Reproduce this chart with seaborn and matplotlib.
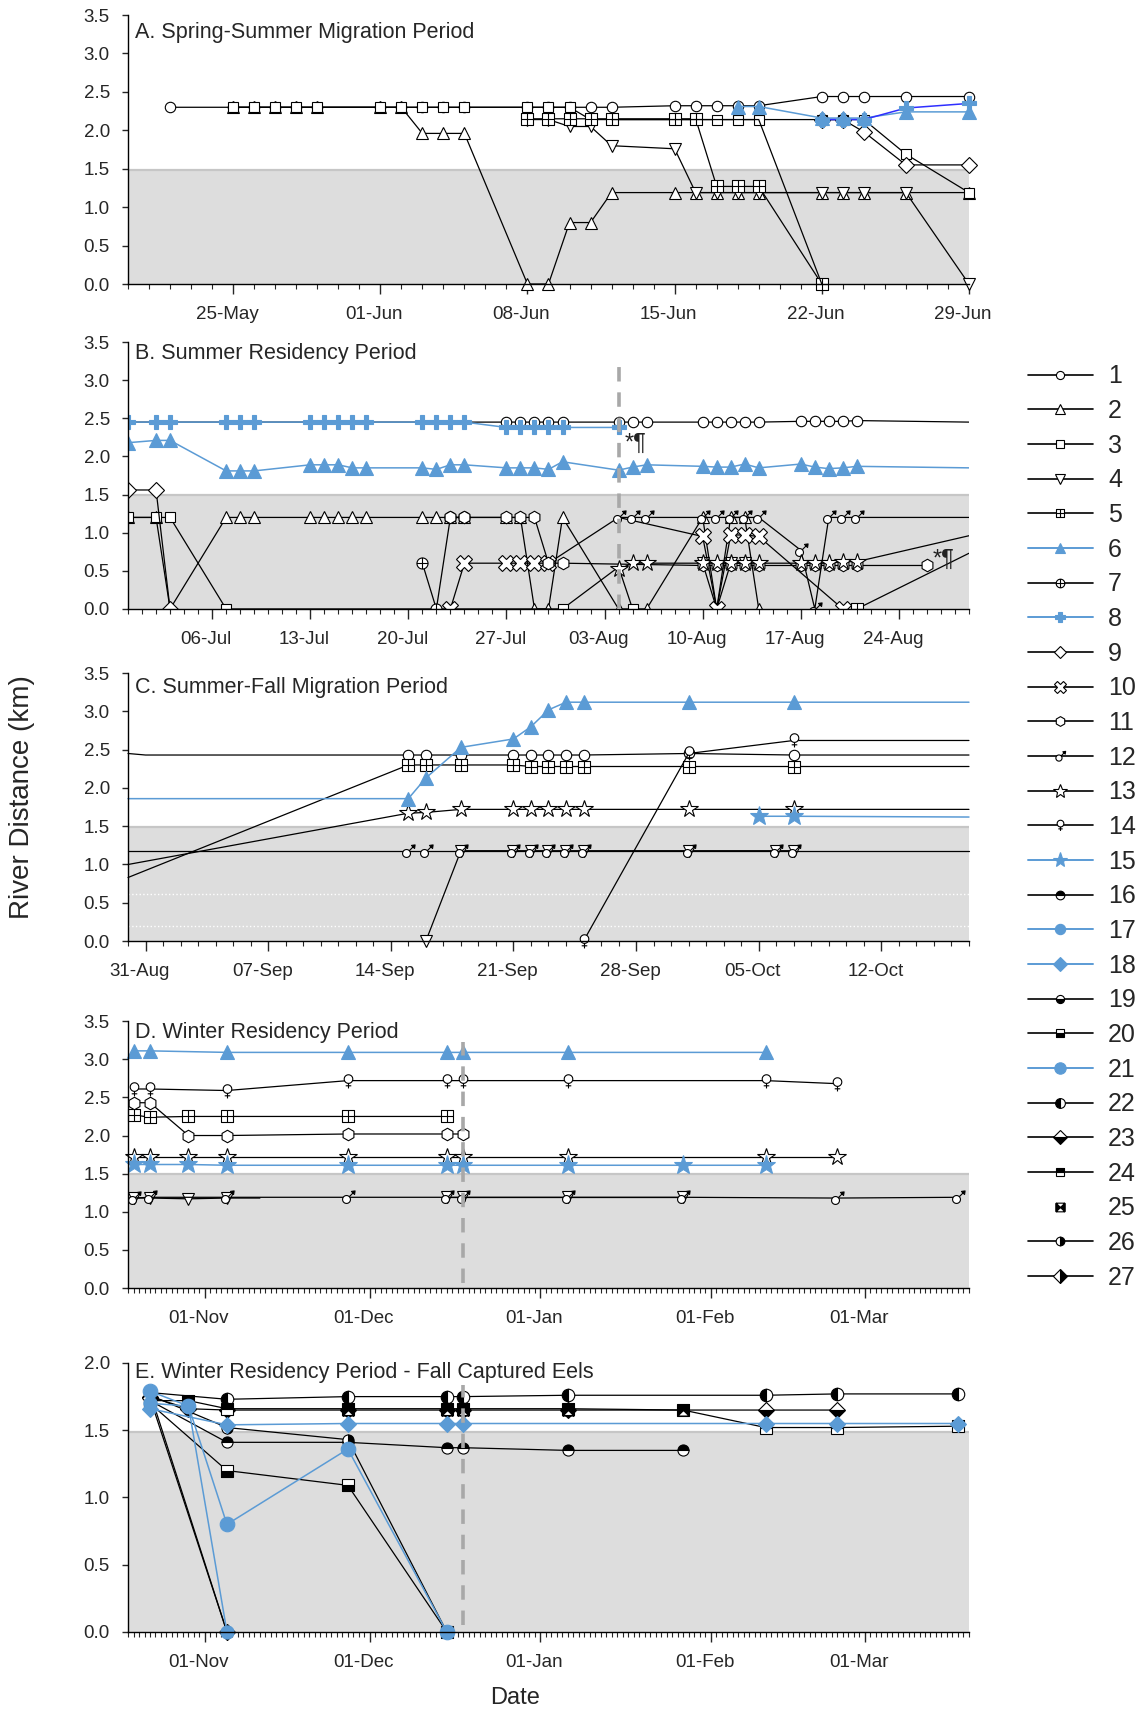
import numpy as np
import pandas as pd
import matplotlib
matplotlib.use("Agg")
import matplotlib.pyplot as plt
import matplotlib.dates as mdates
import matplotlib.transforms as mtransforms
from matplotlib.path import Path
from matplotlib.lines import Line2D
from matplotlib.ticker import FixedLocator, FormatStrFormatter
import seaborn as sns

# ---------------------------------------------------------------- data
# dates are MM-DD (May-Dec -> 2010, Jan-Apr -> 2011); '~' = line point without marker
A_title = "A. Spring-Summer Migration Period"
A_ticks = ["05-25", "06-01", "06-08", "06-15", "06-22", "06-29"]
A_series = {
    "1": (["05-22", "05-25", "05-26", "05-27", "05-28", "05-29", "06-01", "06-02", "06-03", "06-04", "06-05",
           "06-08", "06-09", "06-10", "06-11", "06-12", "06-15", "06-16", "06-17", "06-18", "06-19",
           "06-22", "06-23", "06-24", "06-26", "06-29"],
          [2.30, 2.30, 2.30, 2.30, 2.30, 2.30, 2.30, 2.30, 2.30, 2.30, 2.30,
           2.30, 2.30, 2.30, 2.30, 2.30, 2.32, 2.32, 2.32, 2.32, 2.32,
           2.44, 2.44, 2.44, 2.44, 2.44]),
    "2": (["05-25", "05-26", "05-27", "05-28", "05-29", "06-01", "06-02", "06-03", "06-04", "06-05",
           "06-08", "06-09", "06-10", "06-11", "06-12", "06-15", "06-16", "06-17", "06-18", "06-19",
           "06-22", "06-23", "06-24", "06-26", "06-29"],
          [2.30, 2.30, 2.30, 2.30, 2.30, 2.30, 2.30, 1.96, 1.96, 1.96,
           0.00, 0.00, 0.80, 0.80, 1.19, 1.19, 1.19, 1.19, 1.19, 1.19,
           1.19, 1.19, 1.19, 1.19, 1.19]),
    "3": (["05-25", "05-26", "05-27", "05-28", "05-29", "06-01", "06-02", "06-03", "06-04", "06-05",
           "06-08", "06-09", "06-10", "~06-11", "~06-16", "06-17", "06-18", "06-19", "06-22", "06-23", "06-24",
           "06-26", "06-29"],
          [2.30, 2.30, 2.30, 2.30, 2.30, 2.30, 2.30, 2.30, 2.30, 2.30,
           2.30, 2.30, 2.30, 2.14, 2.14, 2.14, 2.14, 2.14, 2.14, 2.14, 2.14,
           1.69, 1.19]),
    "4": (["06-08", "06-09", "06-10", "06-11", "06-12", "06-15", "06-16", "06-17", "06-18", "06-19",
           "06-22", "06-23", "06-24", "06-26", "06-29"],
          [2.14, 2.14, 2.05, 2.05, 1.80, 1.76, 1.19, 1.19, 1.19, 1.19,
           1.19, 1.19, 1.19, 1.19, 0.00]),
    "5": (["06-08", "06-09", "06-10", "06-11", "06-12", "06-15", "06-16", "06-17", "06-18", "06-19", "06-22"],
          [2.15, 2.15, 2.15, 2.15, 2.15, 2.15, 2.15, 1.27, 1.27, 1.27, 0.00]),
    "7": (["~06-12", "~06-19", "~06-22"], [2.14, 2.14, 0.00]),
    "9": (["06-22", "06-23", "06-24", "06-26", "06-29"], [2.14, 2.14, 1.98, 1.55, 1.55]),
    "6": (["06-18", "06-19", "06-22", "06-23", "06-24", "06-26", "06-29"],
          [2.31, 2.31, 2.16, 2.16, 2.16, 2.24, 2.24]),
    "8_dark": (["06-22", "06-23", "06-24", "06-26", "06-29"], [2.14, 2.14, 2.14, 2.29, 2.35]),
}

B_title = "B. Summer Residency Period"
B_ticks = ["07-06", "07-13", "07-20", "07-27", "08-03", "08-10", "08-17", "08-24"]
B_series = {
    "1": (["~06-30", "~07-24", "07-27", "07-28", "07-29", "07-30", "07-31", "08-04", "08-05", "08-06",
           "08-10", "08-11", "08-12", "08-13", "08-14", "08-17", "08-18", "08-19", "08-20", "08-21", "~08-29"],
          [2.45, 2.45, 2.45, 2.45, 2.45, 2.45, 2.45, 2.45, 2.45, 2.45,
           2.45, 2.45, 2.45, 2.45, 2.45, 2.46, 2.46, 2.46, 2.46, 2.47, 2.45]),
    "2": (["06-30", "07-02", "~07-03", "07-07", "07-08", "07-09", "07-13", "07-14", "07-15", "07-16", "07-17",
           "07-21", "07-22", "07-23", "07-24", "07-27", "07-28", "07-29", "07-30", "07-31",
           "08-04", "08-06", "08-10", "08-11", "08-12", "08-13", "08-14"],
          [1.20, 1.20, 0.00, 1.20, 1.20, 1.20, 1.20, 1.20, 1.20, 1.20, 1.20,
           1.20, 1.20, 1.20, 1.20, 1.20, 1.20, 0.00, 0.00, 1.20,
           0.00, 0.00, 1.20, 0.00, 1.20, 1.20, 0.00]),
    "3": (["06-30", "07-02", "07-03", "07-07", "07-31", "~08-04", "08-05"],
          [1.20, 1.20, 1.20, 0.00, 0.00, 0.55, 0.00]),
    "4": (["08-10", "08-11", "08-12", "08-13"], [0.60, 0.00, 0.60, 0.60]),
    "5": (["08-21", "~08-29"], [0.00, 0.73]),
    "7": (["07-21", "07-22", "07-23", "07-24"], [0.60, 0.00, 1.20, 1.20]),
    "9": (["06-30", "07-02", "07-03"], [1.56, 1.56, 0.00]),
    "10": (["07-23", "07-24", "07-27", "07-28", "07-29", "07-30", "~08-04", "08-10", "08-11", "08-12", "08-13",
            "08-14", "08-20"],
           [0.00, 0.60, 0.60, 0.60, 0.60, 0.60, 1.20, 0.95, 0.00, 0.97, 0.97, 0.95, 0.00]),
    "11": (["07-23", "07-24", "07-27", "07-28", "07-29", "07-30", "07-31", "08-10", "08-11", "08-12", "08-13",
            "08-14", "08-17", "08-18", "08-19", "08-20", "08-21", "08-26"],
           [1.20, 1.20, 1.20, 1.20, 1.20, 0.60, 0.60, 0.57, 0.57, 0.57, 0.57,
            0.57, 0.57, 0.57, 0.57, 0.57, 0.57, 0.57]),
    "12": (["08-04", "08-05", "08-06", "08-10", "08-11", "08-12", "08-13", "08-14", "08-17", "08-18", "08-19",
            "08-20", "08-21", "~08-29"],
           [1.20, 1.20, 1.20, 1.20, 1.20, 1.20, 1.20, 1.20, 0.77, 0.00, 1.20, 1.20, 1.20, 1.20]),
    "13": (["08-04", "08-05", "08-06", "08-10", "08-11", "08-12", "08-13", "08-14", "08-17", "08-18", "08-19",
            "08-20", "08-21", "~08-29"],
           [0.52, 0.60, 0.60, 0.60, 0.60, 0.60, 0.60, 0.60, 0.60, 0.60, 0.60, 0.62, 0.62, 0.96]),
    "6": (["06-30", "07-02", "07-03", "07-07", "07-08", "07-09", "07-13", "07-14", "07-15", "07-16", "07-17",
           "07-21", "07-22", "07-23", "07-24", "07-27", "07-28", "07-29", "07-30", "07-31",
           "08-04", "08-05", "08-06", "08-10", "08-11", "08-12", "08-13", "08-14",
           "08-17", "08-18", "08-19", "08-20", "08-21", "~08-29"],
          [2.18, 2.21, 2.21, 1.81, 1.81, 1.81, 1.89, 1.89, 1.89, 1.85, 1.85,
           1.85, 1.83, 1.89, 1.89, 1.85, 1.85, 1.85, 1.83, 1.93,
           1.82, 1.86, 1.89, 1.87, 1.86, 1.86, 1.90, 1.85,
           1.90, 1.86, 1.84, 1.85, 1.87, 1.85]),
    "8": (["06-30", "07-02", "07-03", "07-07", "07-08", "07-09", "07-13", "07-14", "07-15", "07-16", "07-17",
           "07-21", "07-22", "07-23", "07-24", "07-27", "07-28", "07-29", "07-30", "07-31", "08-04"],
          [2.45, 2.45, 2.45, 2.45, 2.45, 2.45, 2.45, 2.45, 2.45, 2.45, 2.45,
           2.45, 2.45, 2.45, 2.45, 2.38, 2.38, 2.38, 2.38, 2.38, 2.38]),
}
B_notes = [("08-04", 2.17, "*¶"), ("08-26", 0.64, "*¶")]

C_title = "C. Summer-Fall Migration Period"
C_ticks = ["08-31", "09-07", "09-14", "09-21", "09-28", "10-05", "10-12"]
C_series = {
    "1": (["~08-30", "~08-31", "09-15", "09-16", "09-18", "09-21", "09-22", "09-23", "09-24", "09-25", "10-01",
           "10-07", "~10-17"],
          [2.45, 2.43, 2.43, 2.43, 2.43, 2.43, 2.43, 2.43, 2.43, 2.43, 2.45, 2.43, 2.43]),
    "4": (["09-16", "09-18", "09-21", "09-22", "09-23", "09-24", "09-25", "10-01", "10-06", "10-07"],
          [0.00, 1.18, 1.18, 1.18, 1.18, 1.18, 1.18, 1.18, 1.18, 1.18]),
    "5": (["~08-30", "09-15", "09-16", "09-18", "09-21", "09-22", "09-23", "09-24", "09-25", "10-01", "10-07",
           "~10-17"],
          [0.83, 2.30, 2.30, 2.30, 2.30, 2.28, 2.28, 2.28, 2.28, 2.28, 2.28, 2.28]),
    "12": (["~08-30", "09-15", "09-16", "09-18", "09-21", "09-22", "09-23", "09-24", "09-25", "10-01", "10-06",
            "10-07", "~10-17"],
           [1.18, 1.18, 1.18, 1.18, 1.18, 1.18, 1.18, 1.18, 1.18, 1.18, 1.18, 1.18, 1.18]),
    "13": (["~08-30", "09-15", "09-16", "09-18", "09-21", "09-22", "09-23", "09-24", "09-25", "10-01", "10-07",
            "~10-17"],
           [1.00, 1.67, 1.68, 1.72, 1.72, 1.72, 1.72, 1.72, 1.72, 1.72, 1.72, 1.72]),
    "14": (["09-25", "10-01", "10-07", "~10-17"], [0.00, 2.45, 2.62, 2.62]),
    "6": (["~08-30", "09-15", "09-16", "09-18", "09-21", "09-22", "09-23", "09-24", "09-25", "10-01", "10-07",
           "~10-17"],
          [1.86, 1.86, 2.13, 2.53, 2.64, 2.80, 3.02, 3.12, 3.12, 3.12, 3.12, 3.12]),
    "15": (["10-05", "10-07", "~10-17"], [1.63, 1.63, 1.62]),
}

D_title = "D. Winter Residency Period"
D_ticks = ["11-01", "12-01", "01-01", "02-01", "03-01"]
D_series = {
    "4": (["10-19", "10-22", "10-29", "11-05", "~11-11"], [1.18, 1.18, 1.17, 1.18, 1.18]),
    "4_b": (["12-15", "12-18", "01-06", "01-27"], [1.19, 1.19, 1.19, 1.19]),
    "5": (["10-19", "10-22", "10-29", "11-05", "11-27", "12-15"], [2.27, 2.24, 2.25, 2.25, 2.25, 2.25]),
    "11": (["10-19", "10-22", "10-29", "11-05", "11-27", "12-15", "12-18"],
           [2.43, 2.43, 2.00, 2.00, 2.02, 2.02, 2.02]),
    "12": (["10-19", "10-22", "11-05", "11-27", "12-15", "12-18", "01-06", "01-27", "02-24", "03-18"],
           [1.18, 1.19, 1.19, 1.19, 1.19, 1.19, 1.19, 1.19, 1.18, 1.19]),
    "13": (["10-19", "10-22", "10-29", "11-05", "11-27", "12-15", "12-18", "01-06", "02-11", "02-24"],
           [1.72, 1.72, 1.72, 1.72, 1.72, 1.72, 1.72, 1.72, 1.72, 1.72]),
    "14": (["10-19", "10-22", "11-05", "11-27", "12-15", "12-18", "01-06", "02-11", "02-24"],
           [2.61, 2.61, 2.59, 2.72, 2.72, 2.72, 2.72, 2.72, 2.68]),
    "6": (["10-19", "10-22", "11-05", "11-27", "12-15", "12-18", "01-06", "02-11"],
          [3.11, 3.11, 3.09, 3.09, 3.09, 3.09, 3.09, 3.09]),
    "15": (["10-19", "10-22", "10-29", "11-05", "11-27", "12-15", "12-18", "01-06", "01-27", "02-11"],
           [1.62, 1.62, 1.62, 1.61, 1.61, 1.61, 1.61, 1.61, 1.61, 1.61]),
}

E_title = "E. Winter Residency Period - Fall Captured Eels"
E_ticks = ["11-01", "12-01", "01-01", "02-01", "03-01"]
E_series = {
    "16": (["10-22", "11-05", "11-27", "12-15", "12-18", "01-06", "01-27"],
           [1.72, 1.41, 1.41, 1.37, 1.37, 1.35, 1.35]),
    "19": (["10-22", "11-05"], [1.78, 0.00]),
    "20": (["10-22", "11-05", "11-27", "12-15"], [1.70, 1.20, 1.09, 0.00]),
    "22": (["10-22", "11-05", "11-27", "12-15", "12-18", "01-06", "02-11", "02-24", "03-18"],
           [1.78, 1.73, 1.75, 1.75, 1.75, 1.76, 1.76, 1.77, 1.77]),
    "23": (["10-22", "10-29", "11-05", "11-27", "12-15", "12-18", "01-06", "02-11", "02-24"],
           [1.75, 1.66, 1.65, 1.65, 1.65, 1.65, 1.65, 1.65, 1.65]),
    "24": (["10-22", "10-29", "11-05", "11-27", "12-15", "12-18", "01-06", "01-27", "02-11", "02-24", "03-18"],
           [1.72, 1.72, 1.66, 1.66, 1.66, 1.66, 1.66, 1.65, 1.52, 1.52, 1.53]),
    "25": (["11-27", "12-15", "12-18", "01-06", "01-27"], [1.65, 1.65, 1.65, 1.65, 1.65]),
    "26": (["10-22", "11-05", "11-27", "12-15"], [1.76, 1.52, 1.43, 0.00]),
    "27": (["10-22", "11-05"], [1.74, 0.00]),
    "17": (["10-22", "10-29", "11-05"], [1.70, 1.68, 0.00]),
    "18": (["10-22", "11-05", "11-27", "12-15", "12-18", "02-11", "02-24", "03-18"],
           [1.66, 1.54, 1.55, 1.55, 1.55, 1.55, 1.55, 1.55]),
    "21": (["10-22", "10-29", "11-05", "11-27", "12-15"], [1.79, 1.68, 0.80, 1.36, 0.00]),
}

eel_ids = [str(i) for i in range(1, 28)]

# ---------------------------------------------------------------- style
sns.set_theme(style="white")
plt.rcParams["font.family"] = ["Liberation Sans", "DejaVu Sans"]
plt.rcParams["axes.edgecolor"] = "black"
plt.rcParams["axes.linewidth"] = 1.0

BLUE = "#5B9BD5"
DARKBLUE = "#2f2fff"


def compound(parts):
    verts, codes = [], []
    for v, closed in parts:
        v = np.asarray(v, float)
        verts.extend(v.tolist())
        c = [Path.MOVETO] + [Path.LINETO] * (len(v) - 1)
        if closed:
            c[-1] = Path.CLOSEPOLY
        codes.extend(c)
    return Path(verts, codes)


def ring(cx, cy, r, n=28):
    t = np.linspace(0, 2 * np.pi, n + 1)
    return np.column_stack([cx + r * np.cos(t), cy + r * np.sin(t)])


SQPLUS = compound([([(-1, -1), (1, -1), (1, 1), (-1, 1), (-1, -1)], True),
                   ([(0, -1), (0, 1)], False), ([(-1, 0), (1, 0)], False)])
CIRCPLUS = compound([(ring(0, 0, 1), True), ([(0, -1), (0, 1)], False), ([(-1, 0), (1, 0)], False)])
MALE = compound([(ring(-0.3, -0.3, 0.6), True), ([(0.12, 0.12), (0.9, 0.9)], False),
                 ([(1.0, 1.0), (0.45, 0.92), (0.92, 0.45), (1.0, 1.0)], True)])
FEMALE = compound([(ring(0, 0.35, 0.62), True), ([(0, -0.27), (0, -1.0)], False),
                   ([(-0.4, -0.62), (0.4, -0.62)], False)])
BOWTIE = compound([([(-1, -1), (0, 0), (-1, 1), (-1, -1)], True), ([(1, -1), (0, 0), (1, 1), (1, -1)], True),
                   ([(-1, -1), (1, -1)], False), ([(1, -1), (1, 1)], False),
                   ([(1, 1), (-1, 1)], False), ([(-1, 1), (-1, -1)], False)])


def st(marker, ms, face="white", lc="black", fill="full", ls="-", lw=0.9):
    return dict(marker=marker, ms=ms, face=face, lc=lc, fill=fill, ls=ls, lw=lw,
                edge=(BLUE if face == BLUE else "black"))


STYLE = {
    1: st("o", 7.5), 2: st("^", 8.5), 3: st("s", 7.5), 4: st("v", 8.5), 5: st(SQPLUS, 8),
    6: st("^", 9.5, BLUE, BLUE, lw=1.1), 7: st(CIRCPLUS, 8), 8: st("P", 9.5, BLUE, BLUE, lw=1.1),
    9: st("D", 8), 10: st("X", 11), 11: st("h", 9), 12: st(MALE, 9.5), 13: st("*", 13),
    14: st(FEMALE, 10), 15: st("*", 14, BLUE, BLUE, lw=1.1), 16: st("o", 8, "black", fill="top"),
    17: st("o", 9.5, BLUE, BLUE, lw=1.1), 18: st("D", 8.5, BLUE, BLUE, lw=1.1),
    19: st("o", 7.5, "black", fill="bottom"), 20: st("s", 8, "black", fill="bottom"),
    21: st("o", 10.5, BLUE, BLUE, lw=1.1), 22: st("o", 9, "black", fill="left"),
    23: st("D", 8.5, "black", fill="bottom"), 24: st("s", 8, "black", fill="top"),
    25: st(BOWTIE, 8, "black", ls="None"), 26: st("o", 8, "black", fill="right"),
    27: st("D", 8.5, "black", fill="right"),
}


def to_dt(s):
    m = int(s[:2])
    return pd.Timestamp(f"{2010 if m >= 5 else 2011}-{s}")


def draw(ax, series, clip=False):
    for key, (dates, vals) in series.items():
        sid = int(key.split("_")[0])
        s = dict(STYLE[sid])
        if key.endswith("_dark"):
            s["lc"] = DARKBLUE
        marked = [i for i, d in enumerate(dates) if not d.startswith("~")]
        df = pd.DataFrame({"date": [to_dt(d.lstrip("~")) for d in dates], "km": vals})
        sns.lineplot(data=df, x="date", y="km", ax=ax, estimator=None, sort=False, legend=False,
                     color=s["lc"], linewidth=s["lw"], linestyle=s["ls"], marker=s["marker"],
                     markersize=s["ms"], markerfacecolor=s["face"], markeredgecolor=s["edge"],
                     markeredgewidth=0.8, fillstyle=s["fill"], markerfacecoloralt="white",
                     markevery=marked, clip_on=clip)


def style_ax(ax, xlim, ymax, ticks, title, title_y=0.975):
    ax.set_xlim(to_dt(xlim[0]), to_dt(xlim[1]))
    ax.set_ylim(0, ymax)
    ax.axhspan(0, 1.48, color="#dddddd", lw=0, zorder=0)
    ax.axhline(1.49, color="#c6c6c6", lw=1.6, zorder=0.5)
    ax.set_yticks(np.arange(0, ymax + 0.01, 0.5))
    ax.yaxis.set_major_formatter(FormatStrFormatter("%.1f"))
    ax.xaxis.set_major_locator(FixedLocator(mdates.date2num([to_dt(t) for t in ticks])))
    ax.xaxis.set_major_formatter(mdates.DateFormatter("%d-%b"))
    ax.xaxis.set_minor_locator(mdates.DayLocator())
    for sp in ("top", "right"):
        ax.spines[sp].set_visible(False)
    ax.tick_params(axis="x", which="major", bottom=True, length=7, width=1, pad=9, labelsize=13.5)
    ax.tick_params(axis="x", which="minor", bottom=True, length=3.5, width=0.8)
    ax.tick_params(axis="y", which="major", left=True, length=4, width=1, pad=9, labelsize=13.5)
    shift = mtransforms.ScaledTranslation(-6 / 100, 0, ax.figure.dpi_scale_trans)
    for lab in ax.get_xticklabels():
        lab.set_transform(lab.get_transform() + shift)
    ax.set_xlabel("")
    ax.set_ylabel("")
    ax.text(0.008, title_y, title, transform=ax.transAxes, ha="left", va="top", fontsize=15.5)


fig = plt.figure(figsize=(11.44, 17.11), dpi=100)
L, W = 0.1119, 0.7351
axA = fig.add_axes([L, 0.8340, W, 0.1572])
axB = fig.add_axes([L, 0.6441, W, 0.1560])
axC = fig.add_axes([L, 0.4500, W, 0.1566])
axD = fig.add_axes([L, 0.2472, W, 0.1560])
axE = fig.add_axes([L, 0.0462, W, 0.1572])

draw(axA, A_series)
style_ax(axA, ("05-20", "06-29"), 3.5, A_ticks, A_title)

draw(axB, B_series, clip=True)
style_ax(axB, ("06-30", "08-29"), 3.5, B_ticks, B_title, title_y=0.995)
axB.axvline(to_dt("08-04"), ymin=0, ymax=0.92, color="#a8a8a8", lw=2.6, dashes=(4, 3), zorder=6)
for d, y, t in B_notes:
    axB.text(to_dt(d) + pd.Timedelta(hours=10), y, t, fontsize=17, ha="left", va="center",
             color="#222222", zorder=7)

draw(axC, C_series)
style_ax(axC, ("08-30", "10-17"), 3.5, C_ticks, C_title, title_y=0.985)
axC.axhline(0.62, color="white", lw=1, ls=":", zorder=0.6)
axC.axhline(0.20, color="white", lw=1, ls=":", zorder=0.6)

draw(axD, D_series)
style_ax(axD, ("10-18", "03-20"), 3.5, D_ticks, D_title, title_y=0.995)
axD.axvline(to_dt("12-18"), ymin=0.02, ymax=0.92, color="#a8a8a8", lw=2.6, dashes=(4, 3), zorder=6)

draw(axE, E_series)
style_ax(axE, ("10-18", "03-20"), 2.0, E_ticks, E_title, title_y=1.005)
axE.axvline(to_dt("12-18"), ymin=0.025, ymax=0.92, color="#a8a8a8", lw=2.6, dashes=(4, 3), zorder=6)

# legend
handles = []
for i in range(1, 28):
    s = STYLE[i]
    handles.append(Line2D([], [], color=s["lc"], lw=s["lw"] + 0.3, ls=s["ls"], marker=s["marker"],
                          markersize=s["ms"] * 0.78, markerfacecolor=s["face"], markeredgecolor=s["edge"],
                          markeredgewidth=0.8, fillstyle=s["fill"], markerfacecoloralt="white"))
fig.legend(handles, eel_ids, loc="upper left", bbox_to_anchor=(0.8986, 0.7871), frameon=False,
           fontsize=18, handlelength=2.6, handletextpad=0.6, labelspacing=0.427,
           borderpad=0, borderaxespad=0)

fig.text(0.019, 0.534, "River Distance (km)", rotation=90, ha="center", va="center", fontsize=20)
fig.text(0.450, 0.0075, "Date", ha="center", va="center", fontsize=17)

fig.savefig("out.png", dpi=100)
